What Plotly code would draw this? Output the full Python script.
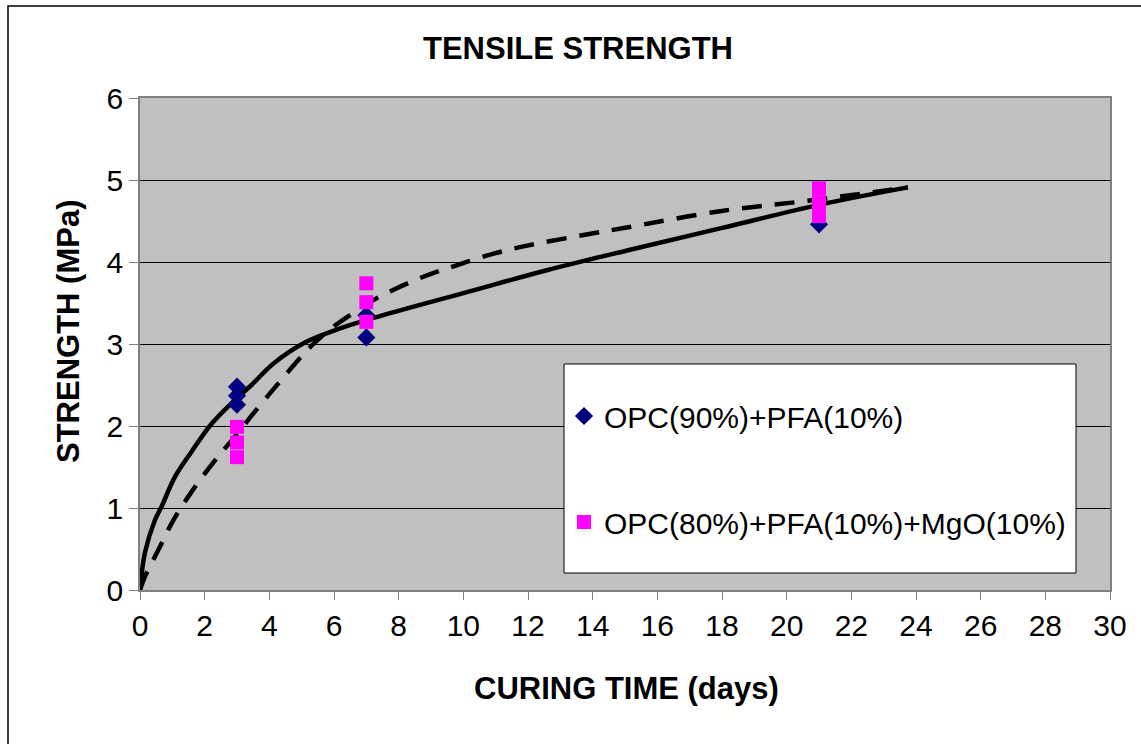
import plotly.graph_objects as go

# ---- data ----
days_a = [3, 3, 3, 7, 7, 21]
opc_pfa = [2.48, 2.37, 2.26, 3.35, 3.08, 4.46]

days_b = [3, 3, 3, 7, 7, 7, 21, 21, 21]
opc_pfa_mgo = [1.99, 1.80, 1.62, 3.74, 3.51, 3.27, 4.90, 4.73, 4.56]

# trend line (solid) for OPC+PFA
trend_a_x = [0, 0.15, 0.46, 0.67, 1.08, 1.6, 2.22, 2.94, 3.45, 4.12, 5.16, 6.19,
             7.42, 10, 12.58, 15.16, 17.94, 21.03, 23.75]
trend_a_y = [0, 0.45, 0.85, 1.02, 1.38, 1.69, 2.03, 2.32, 2.5, 2.76, 3.03, 3.19,
             3.34, 3.62, 3.9, 4.15, 4.41, 4.70, 4.91]

# trend line (dashed) for OPC+PFA+MgO
trend_b_x = [0, 0.15, 0.57, 1.03, 1.6, 2.32, 3.04, 3.5, 4.28, 4.95, 5.36, 5.88,
             6.8, 7.42, 8.76, 9.79, 10.83, 11.86, 14.02, 15.05, 17.94, 20.72, 23.75]
trend_b_y = [0, 0.16, 0.49, 0.85, 1.2, 1.58, 1.92, 2.15, 2.52, 2.83, 3.0, 3.18,
             3.43, 3.58, 3.82, 3.96, 4.09, 4.19, 4.35, 4.42, 4.62, 4.75, 4.91]

x_ticks = list(range(0, 31, 2))
y_ticks = list(range(0, 7))

FONT = "Liberation Sans, Arial, sans-serif"

fig = go.Figure()

fig.add_trace(go.Scatter(x=trend_a_x, y=trend_a_y, mode="lines", line_shape="spline",
                         line=dict(color="black", width=4.5), showlegend=False,
                         hoverinfo="skip"))
fig.add_trace(go.Scatter(x=trend_b_x, y=trend_b_y, mode="lines", line_shape="spline",
                         line=dict(color="black", width=4.5, dash="20px,13px"),
                         showlegend=False, hoverinfo="skip"))

fig.add_trace(go.Scatter(x=days_a, y=opc_pfa, mode="markers", name="OPC(90%)+PFA(10%)",
                         legendgroup="a",
                         marker=dict(symbol="diamond", size=14, color="#000080",
                                     line=dict(width=0))))
fig.add_trace(go.Scatter(x=days_b, y=opc_pfa_mgo, mode="markers",
                         name="OPC(80%)+PFA(10%)+MgO(10%)", legendgroup="b",
                         marker=dict(symbol="square", size=14, color="#FF00FF",
                                     line=dict(width=0))))

L, R, T, B = 140, 31, 98, 154
W, H = 1141, 744
pw, ph = W - L - R, H - T - B

def px_x(p):
    return (p - L) / pw

def px_y(p):
    return (H - B - p) / ph

shapes = [
    # legend box
    dict(type="rect", xref="paper", yref="paper",
         x0=px_x(564), x1=px_x(1076), y0=px_y(573), y1=px_y(364),
         fillcolor="white", line=dict(color="black", width=1), layer="above"),
    # chart outer border (right and bottom edges fall outside the picture)
    dict(type="rect", xref="paper", yref="paper",
         x0=px_x(8), x1=px_x(1150), y0=px_y(752), y1=px_y(6),
         fillcolor="rgba(0,0,0,0)", line=dict(color="black", width=1.5), layer="above"),
]

annotations = [
    dict(text="<b>CURING TIME (days)</b>", xref="paper", yref="paper",
         x=px_x(626), y=px_y(688), showarrow=False,
         font=dict(family=FONT, size=31, color="black"),
         xanchor="center", yanchor="middle"),
    dict(text="<b>STRENGTH (MPa)</b>", xref="paper", yref="paper",
         x=px_x(68), y=px_y(331), showarrow=False, textangle=-90,
         font=dict(family=FONT, size=31, color="black"),
         xanchor="center", yanchor="middle"),
]

fig.update_layout(
    width=W, height=H,
    margin=dict(l=L, r=R, t=T, b=B),
    paper_bgcolor="white",
    plot_bgcolor="#C0C0C0",
    font=dict(family=FONT, size=30, color="black"),
    title=dict(text="<b>TENSILE STRENGTH</b>", x=578 / W, xanchor="center",
               y=1 - 48 / H, yanchor="middle", yref="container",
               font=dict(family=FONT, size=31, color="black")),
    xaxis=dict(range=[0, 30], tickvals=x_ticks, ticks="outside", ticklen=8,
               tickcolor="#808080", showgrid=False, zeroline=False,
               showline=True, linecolor="#808080", linewidth=1.5, mirror=True,
               tickfont=dict(size=30)),
    yaxis=dict(range=[0, 6], tickvals=y_ticks, ticks="outside", ticklen=9,
               tickcolor="#808080", showgrid=True, gridcolor="black", gridwidth=1,
               zeroline=False, showline=True, linecolor="#808080", linewidth=1.5,
               mirror=True, tickfont=dict(size=30)),
    legend=dict(x=px_x(564), y=px_y(390), xanchor="left", yanchor="top",
                bgcolor="rgba(0,0,0,0)", borderwidth=0,
                font=dict(family=FONT, size=30, color="black"),
                tracegroupgap=64, itemsizing="trace"),
    shapes=shapes,
    annotations=annotations,
)

fig.write_html("out.html")
